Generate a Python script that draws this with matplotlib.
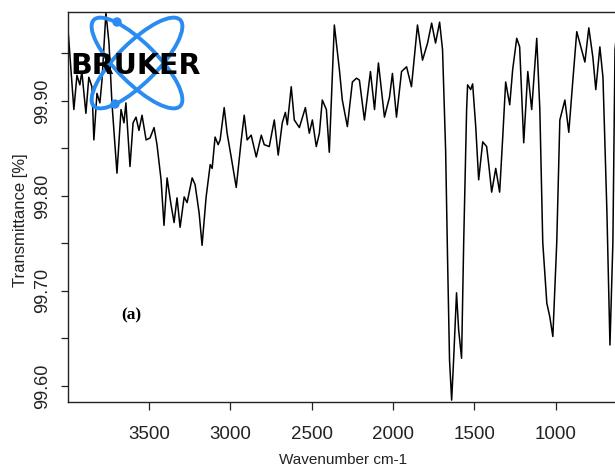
import matplotlib
matplotlib.use("Agg")
import matplotlib.pyplot as plt
from matplotlib.patches import Ellipse, Circle

# IR spectrum (wavenumber in cm-1, transmittance in %)
wavenumber = [4005, 3962, 3943, 3925, 3913, 3888, 3870, 3851, 3839, 3820,
              3802, 3789, 3765, 3746, 3728, 3697, 3672, 3654, 3642, 3617,
              3598, 3580, 3562, 3543, 3518, 3494, 3469, 3451, 3426, 3408,
              3389, 3365, 3346, 3328, 3309, 3284, 3266, 3235, 3217, 3192,
              3174, 3149, 3124, 3112, 3094, 3075, 3063, 3038, 3020, 2995,
              2964, 2933, 2915, 2897, 2872, 2841, 2810, 2792, 2761, 2730,
              2706, 2681, 2662, 2650, 2626, 2607, 2576, 2539, 2515, 2496,
              2472, 2453, 2435, 2410, 2392, 2361, 2330, 2312, 2281, 2250,
              2225, 2207, 2176, 2139, 2114, 2090, 2053, 2022, 2004, 1979,
              1948, 1917, 1887, 1850, 1819, 1788, 1763, 1739, 1714, 1696,
              1677, 1665, 1653, 1640, 1628, 1610, 1597, 1579, 1566, 1548,
              1542, 1523, 1511, 1492, 1474, 1449, 1425, 1412, 1394, 1369,
              1345, 1326, 1308, 1283, 1265, 1240, 1222, 1197, 1172, 1148,
              1117, 1098, 1080, 1055, 1037, 1018, 994, 975, 944, 920,
              895, 871, 852, 821, 797, 772, 754, 729, 710, 686,
              667, 649, 636, 618]
transmittance = [99.992, 99.891, 99.927, 99.917, 99.931, 99.887, 99.925, 99.915, 99.859, 99.908,
                 99.898, 99.922, 99.993, 99.961, 99.898, 99.824, 99.891, 99.877, 99.898, 99.831,
                 99.877, 99.883, 99.869, 99.885, 99.859, 99.861, 99.872, 99.854, 99.817, 99.769,
                 99.819, 99.791, 99.772, 99.798, 99.767, 99.799, 99.793, 99.819, 99.812, 99.782,
                 99.748, 99.799, 99.833, 99.829, 99.862, 99.854, 99.859, 99.893, 99.866, 99.841,
                 99.809, 99.859, 99.885, 99.859, 99.864, 99.841, 99.864, 99.854, 99.852, 99.880,
                 99.843, 99.877, 99.888, 99.875, 99.915, 99.880, 99.872, 99.893, 99.866, 99.880,
                 99.852, 99.866, 99.901, 99.891, 99.846, 99.980, 99.933, 99.901, 99.873, 99.920,
                 99.924, 99.922, 99.880, 99.931, 99.891, 99.940, 99.883, 99.904, 99.929, 99.883,
                 99.931, 99.936, 99.915, 99.980, 99.943, 99.961, 99.982, 99.961, 99.983, 99.954,
                 99.848, 99.733, 99.627, 99.585, 99.627, 99.698, 99.659, 99.629, 99.751, 99.891,
                 99.917, 99.912, 99.918, 99.873, 99.817, 99.857, 99.852, 99.833, 99.804, 99.829,
                 99.804, 99.862, 99.920, 99.896, 99.933, 99.966, 99.957, 99.856, 99.931, 99.891,
                 99.966, 99.891, 99.751, 99.687, 99.673, 99.652, 99.751, 99.880, 99.901, 99.867,
                 99.922, 99.973, 99.961, 99.941, 99.977, 99.946, 99.912, 99.957, 99.925, 99.785,
                 99.643, 99.751, 99.954, 99.985]

x_ticks = [3500, 3000, 2500, 2000, 1500, 1000]
y_major = [99.60, 99.70, 99.80, 99.90]
y_minor = [99.65, 99.75, 99.85, 99.95]
y_labels = ["99.60", "99.70", "99.80", "99.90"]

W, H = 615, 476
fig = plt.figure(figsize=(W / 100, H / 100), dpi=100)
ax = fig.add_axes([68 / W, 1 - 402 / H, 1 - 68 / W, (402 - 12) / H])

ax.plot(wavenumber, transmittance, color="black", lw=1.1,
        solid_joinstyle="round")
ax.set_xlim(3998, 636)
ax.set_ylim(99.583, 99.9937)

ax.spines["right"].set_visible(False)
for s in ["left", "bottom", "top"]:
    ax.spines[s].set_linewidth(1.0)
    ax.spines[s].set_color("#222222")

ax.set_xticks(x_ticks)
ax.set_xticklabels([str(t) for t in x_ticks], family="Liberation Sans",
                   fontsize=13.5)
ax.tick_params(axis="x", length=6, width=0.9, pad=11, colors="#222222")

ax.set_yticks(y_major)
ax.set_yticks(y_minor, minor=True)
ax.set_yticklabels(y_labels, family="Liberation Sans", fontsize=13,
                   rotation=90, va="center")
ax.tick_params(axis="y", which="both", length=5, width=0.9, pad=7, colors="#222222")

fig.text(343 / W, 1 - 460 / H, "Wavenumber cm-1", family="Liberation Sans",
         fontsize=11, ha="center", va="center", color="#222222")
fig.text(21 / W, 1 - 220 / H, "Transmittance [%]", family="Liberation Sans",
         fontsize=12, rotation=90, ha="center", va="center", color="#222222")

# overlay in pixel units for the annotation and the logo
ov = fig.add_axes([0, 0, 1, 1], zorder=5)
ov.set_xlim(0, W)
ov.set_ylim(H, 0)
ov.axis("off")
ov.patch.set_alpha(0)

ov.text(131, 315, "(a)", family="Liberation Serif", fontweight="bold",
        fontsize=12.5, ha="center", va="center")

blue = "#2a8cf0"
for ang in (45, -45):
    ov.add_patch(Ellipse((137, 63), 122, 40, angle=ang, fill=False,
                         edgecolor=blue, lw=2.8))
ov.add_patch(Circle((117, 22), 4, color=blue))
ov.add_patch(Circle((115, 104), 4, color=blue))
ov.text(70, 74, "BRUKER", family="DejaVu Sans", fontweight="bold",
        fontsize=20.5, ha="left", va="baseline", color="black")

fig.savefig("out.png", dpi=100)
